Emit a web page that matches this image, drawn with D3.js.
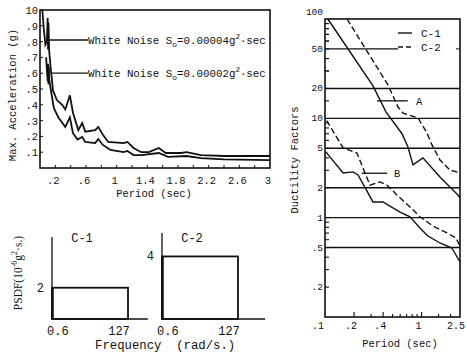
<!DOCTYPE html>
<html><head><meta charset="utf-8">
<script src="https://cdn.jsdelivr.net/npm/d3@7"></script>
<style>
body{margin:0;background:#fff;}
text{font-family:"Liberation Mono","DejaVu Sans Mono",monospace;fill:#111;}
</style></head>
<body><svg id="c" width="467" height="353"></svg>
<script>
// ---------- Data: Max. acceleration vs period ----------
const accPeriodHi = [0.03,0.05,0.07,0.09,0.10,0.105,0.11,0.12,0.14,0.17,0.22,0.29,0.33,0.39,0.43,0.50,0.55,0.59,0.72,0.76,0.82,0.89,1.09,1.14,1.22,1.32,1.42,1.55,1.64,1.84,1.91,2.10,2.40,3.0];
const accHi       = [1.0,0.88,0.78,0.80,0.95,0.75,0.92,0.74,0.63,0.49,0.43,0.40,0.37,0.46,0.35,0.24,0.285,0.23,0.24,0.26,0.21,0.165,0.158,0.165,0.127,0.10,0.10,0.127,0.095,0.095,0.10,0.082,0.076,0.076];
const accPeriodLo = [0.08,0.09,0.10,0.105,0.11,0.115,0.12,0.14,0.18,0.24,0.33,0.39,0.43,0.49,0.55,0.59,0.72,0.76,0.82,0.92,1.09,1.14,1.22,1.32,1.55,1.67,1.91,2.10,2.40,3.0];
const accLo       = [0.70,0.62,0.55,0.66,0.53,0.64,0.56,0.50,0.38,0.32,0.26,0.32,0.22,0.18,0.196,0.165,0.158,0.184,0.146,0.114,0.10,0.108,0.082,0.082,0.095,0.07,0.076,0.063,0.055,0.05];
const accXTicks = [0.2,0.6,1,1.4,1.8,2.2,2.6,3];
const accXLabels = [".2",".6","1","1.4","1.8","2.2","2.6","3"];
const accYTicks = [0.1,0.2,0.3,0.4,0.5,0.6,0.7,0.8,0.9,1.0];
const accYLabels = [".1",".2",".3",".4",".5",".6",".7",".8",".9","10"];
const noiseLevels = ["0.00004","0.00002"];

// ---------- Data: PSDF panels ----------
const psdfNames = ["C-1","C-2"];
const psdfLevel = [2,4];
const psdfBand = [0.6,127];
const psdfTickLabels = ["0.6","127"];

// ---------- Data: ductility factors ----------
const ductXTicks = [0.1,0.2,0.4,1,2.5];
const ductXLabels = [".1",".2",".4","1","2.5"];
const ductYTicks = [100,50,20,10,5,2,1,0.5,0.2];
const ductYLabels = ["100","50","20","10","5","2","1",".5",".2"];
const ductGrid = [50,20,10,5,2,1,0.5];
const c1A_T = [0.107,0.314,0.428,0.627,0.723,0.815,1.033,1.55,2.38,2.5];
const c1A_V = [100,21.2,11.6,7.0,5.15,3.4,4.0,2.57,1.69,1.58];
const c2A_T = [0.169,0.449,0.570,0.642,0.918,1.137,1.282,1.55,1.97,2.5];
const c2A_V = [100,21.7,13.0,11.3,10.1,7.13,5.40,3.81,3.02,2.82];
const c1B_T = [0.102,0.154,0.195,0.220,0.314,0.398,0.598,0.759,0.962,1.164,1.55,2.06,2.5];
const c1B_V = [4.6,2.82,2.89,2.69,1.44,1.44,1.14,1.02,0.788,0.654,0.556,0.495,0.358];
const c2B_T = [0.104,0.154,0.214,0.292,0.371,0.438,0.556,0.759,0.962,1.31,1.83,2.27,2.5];
const c2B_V = [9.5,5.03,4.48,2.13,2.29,2.13,1.69,1.28,1.02,0.825,0.702,0.625,0.52];

const svg = d3.select("#c");
const ink = "#111";

// ================= Top-left: acceleration =================
const ax = d3.scaleLinear().domain([0,3]).range([40,270]);
const ay = d3.scaleLinear().domain([0,1]).range([168,10]);
const g1 = svg.append("g");
g1.append("rect").attr("x",ax(0)).attr("y",ay(1)).attr("width",ax(3)-ax(0)).attr("height",ay(0)-ay(1))
  .attr("fill","none").attr("stroke",ink).attr("stroke-width",1.6);
// ticks
g1.selectAll(".xt").data(d3.range(0.2,3,0.2)).enter().append("line")
  .attr("x1",d=>ax(d)).attr("x2",d=>ax(d)).attr("y1",ay(0)).attr("y2",ay(0)-3).attr("stroke",ink);
g1.selectAll(".yt").data(accYTicks).enter().append("line")
  .attr("x1",ax(0)).attr("x2",ax(0)+3).attr("y1",d=>ay(d)).attr("y2",d=>ay(d)).attr("stroke",ink);
g1.selectAll(".xl").data(accXTicks).enter().append("text")
  .attr("x",d=>ax(d)-2).attr("y",ay(0)+16).attr("text-anchor","middle").attr("font-size",10.5)
  .text((d,i)=>accXLabels[i]);
g1.selectAll(".yl").data(accYTicks).enter().append("text")
  .attr("x",ax(0)-2).attr("y",d=>ay(d)+4).attr("text-anchor","end").attr("font-size",10.5)
  .text((d,i)=>accYLabels[i]);
g1.append("text").attr("x",154).attr("y",197).attr("text-anchor","middle").attr("font-size",10.5).text("Period (sec)");
g1.append("text").attr("transform","translate(16,95) rotate(-90)").attr("text-anchor","middle").attr("font-size",10.5).text("Max. Acceleration (g)");
const aline = d3.line().x(d=>ax(d[0])).y(d=>ay(d[1])).curve(d3.curveLinear);
g1.append("path").attr("d",aline(accPeriodHi.map((t,i)=>[t,accHi[i]]))).attr("fill","none").attr("stroke",ink).attr("stroke-width",1.8);
g1.append("path").attr("d",aline(accPeriodLo.map((t,i)=>[t,accLo[i]]))).attr("fill","none").attr("stroke",ink).attr("stroke-width",1.8);
// annotations
[[0.13,0.81],[0.14,0.60]].forEach((p,i)=>{
  const yy = ay(p[1]);
  g1.append("line").attr("x1",ax(p[0])).attr("x2",88).attr("y1",yy).attr("y2",yy).attr("stroke",ink).attr("stroke-width",1.3);
  const t = g1.append("text").attr("x",88).attr("y",yy+4).attr("font-size",10.8);
  t.append("tspan").text("White Noise S");
  t.append("tspan").attr("font-size",8).attr("dy",3).text("o");
  t.append("tspan").attr("dy",-3).text("="+noiseLevels[i]+"g");
  t.append("tspan").attr("font-size",7.5).attr("dy",-5).text("2");
  t.append("tspan").attr("dy",5).text("·sec");
});

// ================= Bottom-left: PSDF panels =================
const py = d3.scaleLinear().domain([0,5.5]).range([319,233]);
const panelX = [52,162];
const axisEnd = [160,172];
const axisTop = [5.25,5.5];
svg.append("text").attr("transform","translate(22,273) rotate(-90)").attr("text-anchor","middle")
  .attr("font-size",11.5).style("font-family","'Liberation Serif',serif").call(t=>{
    t.append("tspan").text("PSDF(10");
    t.append("tspan").attr("font-size",8).attr("dy",-5).text("-6");
    t.append("tspan").attr("dy",5).text("g");
    t.append("tspan").attr("font-size",8).attr("dy",-5).text("2");
    t.append("tspan").attr("dy",5).text("·s.)");
  });
psdfNames.forEach((nm,i)=>{
  const px = d3.scaleLinear().domain(psdfBand).range([panelX[i],panelX[i]+76]);
  const g = svg.append("g");
  g.append("line").attr("x1",px(psdfBand[0])).attr("x2",px(psdfBand[0])).attr("y1",py(0)).attr("y2",py(axisTop[i])).attr("stroke",ink).attr("stroke-width",1.3);
  g.append("line").attr("x1",px(psdfBand[0])).attr("x2",px(axisEnd[i])).attr("y1",py(0)).attr("y2",py(0)).attr("stroke",ink).attr("stroke-width",1.3);
  g.append("rect").attr("x",px(psdfBand[0])).attr("y",py(psdfLevel[i])).attr("width",px(psdfBand[1])-px(psdfBand[0]))
    .attr("height",py(0)-py(psdfLevel[i])).attr("fill","none").attr("stroke",ink).attr("stroke-width",1.8);
  g.append("line").attr("x1",px(psdfBand[0])+0.5).attr("x2",px(psdfBand[0])+0.5).attr("y1",py(0)).attr("y2",py(psdfLevel[i])).attr("stroke",ink).attr("stroke-width",2.5);
  g.append("text").attr("x",px(psdfBand[0])-8).attr("y",py(psdfLevel[i])+4).attr("text-anchor","end").attr("font-size",12).text(psdfLevel[i]);
  g.append("text").attr("x",px(psdfBand[0])+30).attr("y",242).attr("text-anchor","middle").attr("font-size",12).text(nm);
  g.append("text").attr("x",px(psdfBand[0])-5).attr("y",335).attr("font-size",12).text(psdfTickLabels[0]);
  g.append("text").attr("x",px(psdfBand[1])-9).attr("y",335).attr("text-anchor","middle").attr("font-size",12).text(psdfTickLabels[1]);
});
svg.append("text").attr("x",95).attr("y",349).attr("font-size",12.3).attr("xml:space","preserve").text("Frequency  (rad/s.)");

// ================= Right: ductility factors =================
const dx = d3.scaleLog().domain([0.1,2.5]).range([325,460]);
const dy = d3.scaleLog().domain([0.1,100]).range([317,19]);
const g3 = svg.append("g");
g3.append("rect").attr("x",dx(0.1)).attr("y",dy(100)).attr("width",dx(2.5)-dx(0.1)).attr("height",dy(0.1)-dy(100))
  .attr("fill","none").attr("stroke",ink).attr("stroke-width",1.6);
// minor ticks
const minorY = [];
[0.1,1,10].forEach(dec=>[2,3,4,5,6,7,8,9].forEach(m=>minorY.push(dec*m)));
[15,30,40,60,70,80,90].forEach(v=>minorY.push(v));
g3.selectAll(".my").data(minorY).enter().append("line")
  .attr("x1",dx(0.1)).attr("x2",dx(0.1)+4).attr("y1",d=>dy(d)).attr("y2",d=>dy(d)).attr("stroke",ink).attr("stroke-width",1.1);
const minorX = [0.2,0.3,0.4,0.5,0.6,0.7,0.8,0.9,1,1.5,2];
g3.selectAll(".mx").data(minorX).enter().append("line")
  .attr("x1",d=>dx(d)).attr("x2",d=>dx(d)).attr("y1",dy(0.1)).attr("y2",d=>dy(0.1)-((d===0.2||d===0.4||d===1)?5:3)).attr("stroke",ink).attr("stroke-width",1.1);
g3.append("line").attr("x1",dx(2.5)).attr("x2",dx(2.5)-4).attr("y1",dy(50)).attr("y2",dy(50)).attr("stroke",ink);
// grid lines
ductGrid.forEach(v=>{
  g3.append("line").attr("x1",dx(0.1)).attr("x2",v===50?398:dx(2.5)).attr("y1",dy(v)).attr("y2",dy(v)).attr("stroke",ink).attr("stroke-width",1.4);
});
// labels
g3.selectAll(".dyl").data(ductYTicks).enter().append("text")
  .attr("x",323).attr("y",d=>dy(d)+(d===100?-4:3)).attr("text-anchor","end").attr("font-size",9.5).text((d,i)=>ductYLabels[i]);
g3.selectAll(".dxl").data(ductXTicks).enter().append("text")
  .attr("x",(d,i)=>dx(d)+(i===0?-7:(i===4?-4:-3))).attr("y",329).attr("text-anchor","middle").attr("font-size",10).text((d,i)=>ductXLabels[i]);
g3.append("text").attr("x",400).attr("y",347).attr("text-anchor","middle").attr("font-size",10.5).text("Period (sec)");
g3.append("text").attr("transform","translate(298,160) rotate(-90)").attr("text-anchor","middle").attr("font-size",10.5).text("Ductility Factors");
// curves
const dline = d3.line().x(d=>dx(d[0])).y(d=>dy(d[1]));
const curves = [
  [c1A_T,c1A_V,false],[c2A_T,c2A_V,true],[c1B_T,c1B_V,false],[c2B_T,c2B_V,true]
];
curves.forEach(([T,V,dash])=>{
  g3.append("path").attr("d",dline(T.map((t,i)=>[t,V[i]]))).attr("fill","none").attr("stroke",ink)
    .attr("stroke-width",1.4).attr("stroke-dasharray",dash?"6,3":null);
});
// legend
g3.append("line").attr("x1",398).attr("x2",412).attr("y1",33).attr("y2",33).attr("stroke",ink).attr("stroke-width",1.4);
g3.append("text").attr("x",421).attr("y",37).attr("font-size",11).text(psdfNames[0]);
g3.append("line").attr("x1",398).attr("x2",414).attr("y1",47).attr("y2",47).attr("stroke",ink).attr("stroke-width",1.4).attr("stroke-dasharray","5,3");
g3.append("text").attr("x",421).attr("y",51).attr("font-size",11).text(psdfNames[1]);
// A / B markers
g3.append("line").attr("x1",dx(0.345)).attr("x2",dx(0.72)).attr("y1",dy(15)).attr("y2",dy(15)).attr("stroke",ink).attr("stroke-width",1.3);
g3.append("text").attr("x",416).attr("y",dy(15)+4).attr("font-size",10.5).text("A");
g3.append("line").attr("x1",dx(0.24)).attr("x2",dx(0.44)).attr("y1",dy(2.8)).attr("y2",dy(2.8)).attr("stroke",ink).attr("stroke-width",1.3);
g3.append("text").attr("x",394).attr("y",dy(2.8)+4).attr("font-size",10.5).text("B");
</script></body></html>
